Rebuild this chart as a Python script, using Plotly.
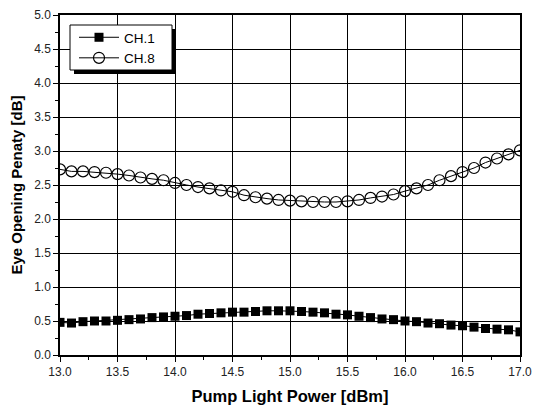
import plotly.graph_objects as go

# Pump light power sweep (dBm), 0.1 dB steps
pump_power = [round(13.0 + 0.1 * i, 1) for i in range(41)]

# Eye opening penalty (dB) for channel 1
ch1_penalty = [
    0.48, 0.47, 0.49, 0.50, 0.50, 0.51, 0.52, 0.53, 0.55, 0.56,
    0.57, 0.58, 0.60, 0.61, 0.62, 0.63, 0.63, 0.64, 0.65, 0.65,
    0.65, 0.64, 0.63, 0.62, 0.60, 0.59, 0.57, 0.55, 0.53, 0.52,
    0.50, 0.49, 0.47, 0.46, 0.44, 0.43, 0.41, 0.39, 0.38, 0.37,
    0.34,
]

# Eye opening penalty (dB) for channel 8
ch8_penalty = [
    2.73, 2.70, 2.70, 2.69, 2.68, 2.66, 2.64, 2.61, 2.59, 2.57,
    2.53, 2.50, 2.47, 2.45, 2.42, 2.40, 2.35, 2.32, 2.30, 2.28,
    2.27, 2.26, 2.25, 2.25, 2.25, 2.26, 2.28, 2.31, 2.33, 2.36,
    2.41, 2.45, 2.50, 2.57, 2.63, 2.69, 2.75, 2.83, 2.89, 2.95,
    3.01,
]

font_family = "Liberation Sans, Arial, sans-serif"

fig = go.Figure()
fig.add_trace(go.Scatter(
    x=pump_power, y=ch1_penalty, name="CH.1", mode="lines+markers",
    line=dict(color="black", width=1),
    marker=dict(symbol="square", size=9, color="black"),
))
fig.add_trace(go.Scatter(
    x=pump_power, y=ch8_penalty, name="CH.8", mode="lines+markers",
    line=dict(color="black", width=1),
    marker=dict(symbol="circle-open", size=11, color="black",
                line=dict(width=1.2, color="black")),
))

W, H = 534, 408
ml, mr, mt, mb = 60, 14, 15, 53
pw, ph = W - ml - mr, H - mt - mb

def px_x(p):
    return (p - ml) / pw

def px_y(p):
    return 1 - (p - mt) / ph

# Legend frame with a drop shadow
fig.add_shape(type="rect", xref="paper", yref="paper",
              x0=px_x(74), x1=px_x(176), y0=px_y(74), y1=px_y(29),
              fillcolor="black", line=dict(width=0), layer="above")
fig.add_shape(type="rect", xref="paper", yref="paper",
              x0=px_x(70), x1=px_x(172), y0=px_y(70), y1=px_y(25),
              fillcolor="white", line=dict(width=1, color="black"),
              layer="above")

axis_common = dict(
    showline=True, linecolor="black", linewidth=1.5, mirror=True,
    showgrid=True, gridcolor="black", gridwidth=1.3,
    ticks="outside", ticklen=5, tickwidth=1, tickcolor="black",
    tickfont=dict(family=font_family, size=12, color="#222"),
    zeroline=False, automargin=False,
    minor=dict(ticks="outside", ticklen=3, tickcolor="black", showgrid=False),
)

fig.update_layout(
    width=W, height=H,
    margin=dict(l=ml, r=mr, t=mt, b=mb),
    paper_bgcolor="white", plot_bgcolor="white",
    showlegend=True,
    legend=dict(
        x=px_x(74), y=px_y(22), xanchor="left", yanchor="top",
        bgcolor="rgba(0,0,0,0)", borderwidth=0,
        font=dict(family=font_family, size=13.5, color="black"),
        tracegroupgap=0, itemwidth=40,
    ),
    xaxis=dict(
        range=[13.0, 17.0], dtick=0.5, tick0=13.0, tickformat=".1f",
        title=dict(text="<b>Pump Light Power [dBm]</b>",
                   font=dict(family=font_family, size=16.5, color="black"),
                   standoff=12),
        **axis_common,
    ),
    yaxis=dict(
        range=[0.0, 5.0], dtick=0.5, tick0=0.0, tickformat=".1f",
        title=dict(text="<b>Eye Opening Penaty [dB]</b>",
                   font=dict(family=font_family, size=15, color="black"),
                   standoff=8),
        **axis_common,
    ),
)
fig.update_xaxes(minor=dict(dtick=0.25))
fig.update_yaxes(minor=dict(dtick=0.25))

fig.write_html("out.html")
